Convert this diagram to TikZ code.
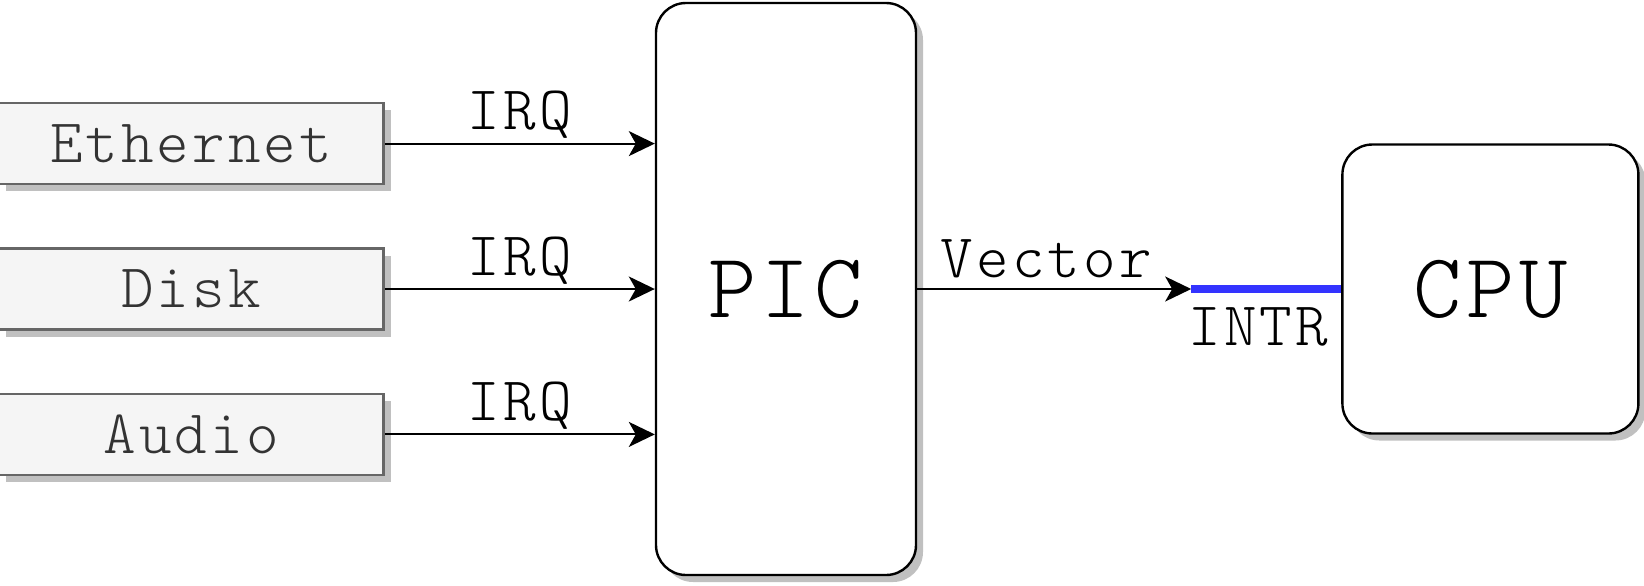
\documentclass[tikz,border=0pt]{standalone}
\usepackage{fontspec}
\newfontfamily\drawfont{lmmonolt10-regular.otf}[LetterSpace=5]
\usetikzlibrary{positioning,shadows,arrows.meta}
\definecolor{devfill}{HTML}{F5F5F5}
\definecolor{devline}{HTML}{666666}
\definecolor{devtext}{HTML}{333333}
\definecolor{shade}{HTML}{C0C0C0}
\definecolor{intrblue}{HTML}{3333FF}

\begin{document}
\begin{tikzpicture}[node distance=31pt]

\tikzstyle{DEV} = [rectangle, minimum width=192.5pt, minimum height=40.5pt, draw=devline, line width=1.2pt, fill=devfill, text=devtext, font=\drawfont\fontsize{31}{33}\selectfont, drop shadow={shadow xshift=3.5pt, shadow yshift=-3.5pt, fill=shade, opacity=1}]
\tikzstyle{CHIP} = [rectangle, rounded corners=15pt, draw=black, line width=1.2pt, fill=white, font=\drawfont\fontsize{46}{48}\selectfont, drop shadow={shadow xshift=3.5pt, shadow yshift=-3.5pt, fill=shade, opacity=1}]
\tikzstyle{LBL} = [font=\drawfont\fontsize{31}{33}\selectfont, inner sep=2pt]
\tikzstyle{arrow} = [line width=1pt, -{Stealth[length=13pt, width=12.5pt, inset=3.5pt]}]

\useasboundingbox (0,0) rectangle (822pt,-292.5pt);

\node (PIC) [CHIP, minimum width=130pt, minimum height=286pt] at (393pt,-144.5pt) {PIC};
\node (disk) [DEV, left=135pt of PIC] {Disk};
\node (eth) [DEV, above=of disk] {Ethernet};
\node (audio) [DEV, below=of disk] {Audio};
\node (CPU) [CHIP, minimum width=148pt, minimum height=144.5pt, right=212pt of PIC] {CPU};
\coordinate [left=75pt of CPU.west] (intr);

\draw[arrow] (eth) -- (eth -| PIC.west) node[LBL, midway, above] {IRQ};
\draw[arrow] (disk) -- (PIC) node[LBL, midway, above] {IRQ};
\draw[arrow] (audio) -- (audio -| PIC.west) node[LBL, midway, above] {IRQ};
\draw[arrow] (PIC) -- (intr) node[LBL, midway, above=3pt, xshift=-4pt] {Vector};
\draw[line width=4.2pt, intrblue] (intr) -- (CPU) node[LBL, black, midway, below=5pt, xshift=-4pt] {INTR};

\end{tikzpicture}
\end{document}
